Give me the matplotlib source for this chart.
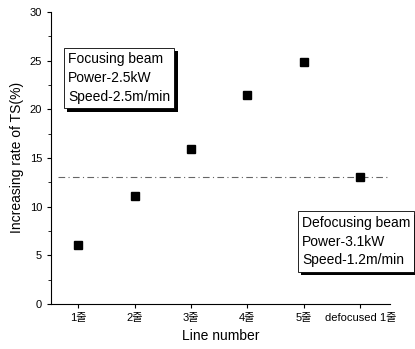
import matplotlib

matplotlib.use("Agg")
import matplotlib.pyplot as plt
import matplotlib.patheffects as pe
from matplotlib.ticker import MultipleLocator

plt.rcParams["font.family"] = ["Liberation Sans", "Noto Sans CJK KR", "DejaVu Sans"]

categories = ["1줄", "2줄", "3줄", "4줄", "5줄", "defocused 1줄"]
ts_increase = [6.1, 11.1, 15.9, 21.5, 24.9, 13.0]
defocus_level = 13.0

fig = plt.figure(figsize=(4.15, 3.49), dpi=100)
ax = fig.add_axes([0.123, 0.129, 0.817, 0.837])

xs = list(range(1, len(categories) + 1))
ax.plot(xs, ts_increase, "s", color="black", markersize=6, zorder=3)
ax.axhline(defocus_level, xmin=0.02, xmax=0.99, color="black", lw=0.8,
           ls=(0, (6, 3, 1, 3)), alpha=0.6)

ax.set_xlim(0.52, 6.53)
ax.set_ylim(0, 30)
ax.set_xticks(xs)
ax.set_xticklabels(categories, fontsize=8)
ax.yaxis.set_major_locator(MultipleLocator(5))
ax.yaxis.set_minor_locator(MultipleLocator(2.5))
ax.tick_params(axis="both", direction="out", labelsize=8, width=0.8, length=3)
ax.tick_params(axis="y", which="minor", length=2)
for side in ("top", "right"):
    ax.spines[side].set_visible(False)
ax.spines["left"].set_linewidth(0.8)
ax.spines["bottom"].set_linewidth(0.8)

ax.set_xlabel("Line number", fontsize=10)
ax.set_ylabel("Increasing rate of TS(%)", fontsize=10)

notes = [
    ("Focusing beam\nPower-2.5kW\nSpeed-2.5m/min", 0.05, 0.685),
    ("Defocusing beam\nPower-3.1kW\nSpeed-1.2m/min", 0.74, 0.125),
]
for text, x, y in notes:
    t = ax.text(x, y, text, transform=ax.transAxes, fontsize=10, linespacing=1.45,
                va="bottom", ha="left", zorder=5, clip_on=False,
                bbox=dict(boxstyle="square,pad=0.3", facecolor="white",
                          edgecolor="black", lw=0.6))
    t.get_bbox_patch().set_path_effects([
        pe.SimplePatchShadow(offset=(2.5, -2.5), shadow_rgbFace="black", alpha=1.0),
        pe.Normal(),
    ])

fig.savefig("out.png", dpi=100)
plt.close(fig)
